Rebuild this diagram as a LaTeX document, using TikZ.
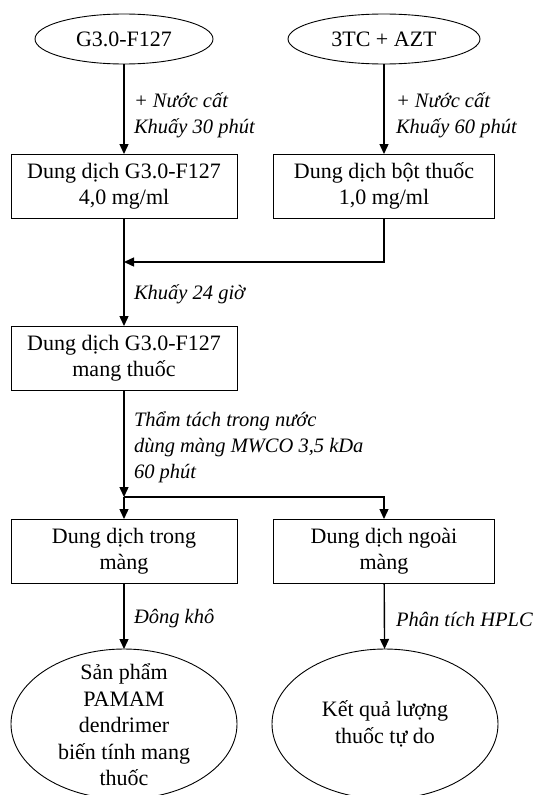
\documentclass[tikz,border=0pt]{standalone}
\usepackage{fontspec}
\setmainfont{Liberation Serif}
\usetikzlibrary{shapes.geometric,arrows.meta}
\begin{document}
\begin{tikzpicture}[x=1pt,y=-1pt,
  every node/.style={inner sep=0pt,outer sep=0pt},
  boxnode/.style={draw,line width=0.9pt,minimum height=64pt,align=center,font=\fontsize{22}{26}\selectfont},
  ovalnode/.style={draw,ellipse,line width=0.9pt,align=center,font=\fontsize{22}{28.5}\selectfont},
  ovaltext/.style={align=center,font=\fontsize{22}{26.5}\selectfont},
  lbl/.style={anchor=west,align=left,font=\fontsize{20.5}{26}\selectfont\itshape},
  arr/.style={line width=1.4pt,-{Triangle[width=9pt,length=10pt]}}]
\useasboundingbox (0,0) rectangle (535,795);
\fill[white] (0,0) rectangle (535,795);
% top ellipses
\node[ovalnode,minimum width=178pt,minimum height=50pt] (e1) at (124,39) {G3.0-F127};
\node[ovalnode,minimum width=192pt,minimum height=50pt] (e2) at (384,39) {3TC + AZT};
% boxes
\node[boxnode,minimum width=226pt] (b1) at (124,186) {Dung dịch G3.0-F127\\4,0 mg/ml};
\node[boxnode,minimum width=221pt] (b2) at (384,186) {Dung dịch bột thuốc\\1,0 mg/ml};
\node[boxnode,minimum width=226pt] (b3) at (124,358) {Dung dịch G3.0-F127\\mang thuốc};
\node[boxnode,minimum width=226pt] (b4) at (124,551) {Dung dịch trong\\màng};
\node[boxnode,minimum width=221pt] (b5) at (384,551) {Dung dịch ngoài\\màng};
% bottom ellipses
\node[ovalnode,minimum width=226pt,minimum height=150pt] (e4) at (124,724) {};
\node[ovalnode,minimum width=226pt,minimum height=150pt] (e5) at (385,724) {};
\node[ovaltext] (t4) at (124,725) {Sản phẩm\\PAMAM\\dendrimer\\biến tính mang\\thuốc};
\node[ovaltext] (t5) at (385,724) {Kết quả lượng\\thuốc tự do};
% coordinates
\coordinate (m) at (124,262);
\coordinate (s) at (124,497);
% connectors
\draw[arr] (e1) -- (b1);
\draw[arr] (e2) -- (b2);
\draw[arr] (b2.south) |- (m);
\draw[arr] (b1.south) -- (b3.north);
\draw[arr] (b3.south) -- (s);
\draw[arr] (s) -- (b4.north);
\draw[arr] (s) -| (b5.north);
\draw[arr] (b4) -- (e4);
\draw[arr] (b5) -- (e5);
% labels
\node[lbl] (l1) at (134,115) {+ Nước cất\\Khuấy 30 phút};
\node[lbl] (l2) at (396,115) {+ Nước cất\\Khuấy 60 phút};
\node[lbl] (l3) at (134,294) {Khuấy 24 giờ};
\node[lbl] (l4) at (134,447) {Thẩm tách trong nước\\dùng màng MWCO 3,5 kDa\\60 phút};
\node[lbl] (l5) at (134,619) {Đông khô};
\node[lbl] (l6) at (396,619) {Phân tích HPLC};
\end{tikzpicture}
\end{document}
